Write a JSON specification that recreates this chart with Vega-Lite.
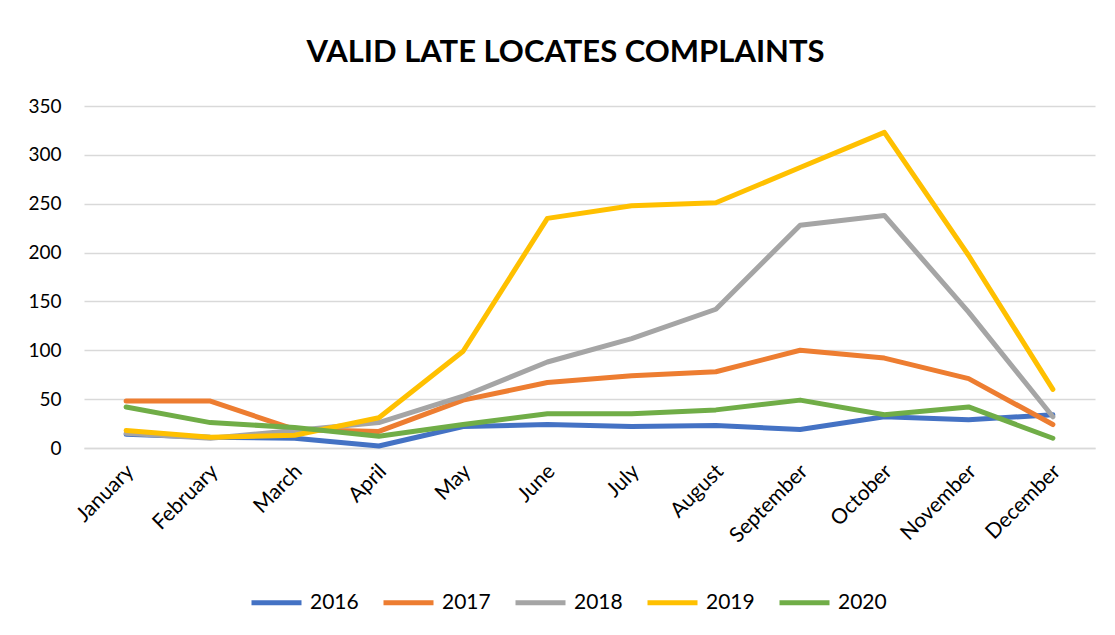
{
  "$schema": "https://vega.github.io/schema/vega-lite/v6.json",
  "width": 1011,
  "height": 342,
  "autosize": "none",
  "padding": {"left": 84, "top": 106, "right": 20, "bottom": 187},
  "background": "white",
  "title": {
    "text": "VALID LATE LOCATES COMPLAINTS",
    "font": "Lato",
    "fontSize": 31,
    "fontWeight": "bold",
    "color": "#000000",
    "anchor": "middle",
    "dx": -24,
    "offset": 28
  },
  "config": {
    "view": {"stroke": null},
    "font": "Lato"
  },
  "data": {
    "values": [
      {"month": "January", "year": "2016", "value": 14},
      {"month": "February", "year": "2016", "value": 11},
      {"month": "March", "year": "2016", "value": 10},
      {"month": "April", "year": "2016", "value": 2},
      {"month": "May", "year": "2016", "value": 22},
      {"month": "June", "year": "2016", "value": 24},
      {"month": "July", "year": "2016", "value": 22},
      {"month": "August", "year": "2016", "value": 23},
      {"month": "September", "year": "2016", "value": 19},
      {"month": "October", "year": "2016", "value": 32},
      {"month": "November", "year": "2016", "value": 29},
      {"month": "December", "year": "2016", "value": 34},
      {"month": "January", "year": "2017", "value": 48},
      {"month": "February", "year": "2017", "value": 48},
      {"month": "March", "year": "2017", "value": 19},
      {"month": "April", "year": "2017", "value": 17},
      {"month": "May", "year": "2017", "value": 49},
      {"month": "June", "year": "2017", "value": 67},
      {"month": "July", "year": "2017", "value": 74},
      {"month": "August", "year": "2017", "value": 78},
      {"month": "September", "year": "2017", "value": 100},
      {"month": "October", "year": "2017", "value": 92},
      {"month": "November", "year": "2017", "value": 71},
      {"month": "December", "year": "2017", "value": 24},
      {"month": "January", "year": "2018", "value": 15},
      {"month": "February", "year": "2018", "value": 10},
      {"month": "March", "year": "2018", "value": 18},
      {"month": "April", "year": "2018", "value": 26},
      {"month": "May", "year": "2018", "value": 53},
      {"month": "June", "year": "2018", "value": 88},
      {"month": "July", "year": "2018", "value": 112},
      {"month": "August", "year": "2018", "value": 142},
      {"month": "September", "year": "2018", "value": 228},
      {"month": "October", "year": "2018", "value": 238},
      {"month": "November", "year": "2018", "value": 139},
      {"month": "December", "year": "2018", "value": 32},
      {"month": "January", "year": "2019", "value": 18},
      {"month": "February", "year": "2019", "value": 11},
      {"month": "March", "year": "2019", "value": 13},
      {"month": "April", "year": "2019", "value": 31},
      {"month": "May", "year": "2019", "value": 99},
      {"month": "June", "year": "2019", "value": 235},
      {"month": "July", "year": "2019", "value": 248},
      {"month": "August", "year": "2019", "value": 251},
      {"month": "September", "year": "2019", "value": 287},
      {"month": "October", "year": "2019", "value": 323},
      {"month": "November", "year": "2019", "value": 197},
      {"month": "December", "year": "2019", "value": 60},
      {"month": "January", "year": "2020", "value": 42},
      {"month": "February", "year": "2020", "value": 26},
      {"month": "March", "year": "2020", "value": 21},
      {"month": "April", "year": "2020", "value": 12},
      {"month": "May", "year": "2020", "value": 24},
      {"month": "June", "year": "2020", "value": 35},
      {"month": "July", "year": "2020", "value": 35},
      {"month": "August", "year": "2020", "value": 39},
      {"month": "September", "year": "2020", "value": 49},
      {"month": "October", "year": "2020", "value": 34},
      {"month": "November", "year": "2020", "value": 42},
      {"month": "December", "year": "2020", "value": 10}
    ]
  },
  "mark": {"type": "line", "strokeWidth": 5, "strokeCap": "round", "strokeJoin": "round"},
  "encoding": {
    "x": {
      "field": "month",
      "type": "ordinal",
      "sort": ["January","February","March","April","May","June","July","August","September","October","November","December"],
      "scale": {"type": "point", "padding": 0.5},
      "axis": {
        "title": null,
        "labelAngle": -45,
        "labelAlign": "right",
        "labelBaseline": "middle",
        "labelFontSize": 21,
        "labelColor": "#000000",
        "labelFont": "Lato",
        "labelPadding": 20,
        "labelOffset": 4,
        "ticks": false,
        "domain": true,
        "domainColor": "#d9d9d9",
        "domainWidth": 1.5,
        "grid": false
      }
    },
    "y": {
      "field": "value",
      "type": "quantitative",
      "scale": {"domain": [0, 350], "nice": false},
      "axis": {
        "title": null,
        "values": [0, 50, 100, 150, 200, 250, 300, 350],
        "labelFontSize": 19,
        "labelColor": "#000000",
        "labelFont": "Lato",
        "labelPadding": 23,
        "ticks": false,
        "domain": false,
        "grid": true,
        "gridColor": "#d9d9d9",
        "gridWidth": 1.5
      }
    },
    "color": {
      "field": "year",
      "type": "nominal",
      "scale": {
        "domain": ["2016", "2017", "2018", "2019", "2020"],
        "range": ["#4472C4", "#ED7D31", "#A5A5A5", "#FFC000", "#70AD47"]
      },
      "legend": {
        "title": null,
        "orient": "none",
        "legendX": 165,
        "legendY": 469,
        "direction": "horizontal",
        "columns": 5,
        "symbolType": "stroke",
        "symbolSize": 2500,
        "symbolStrokeWidth": 5,
        "labelFontSize": 21,
        "labelFont": "Lato",
        "labelColor": "#000000",
        "labelOffset": 6,
        "columnPadding": 14
      }
    }
  }
}
